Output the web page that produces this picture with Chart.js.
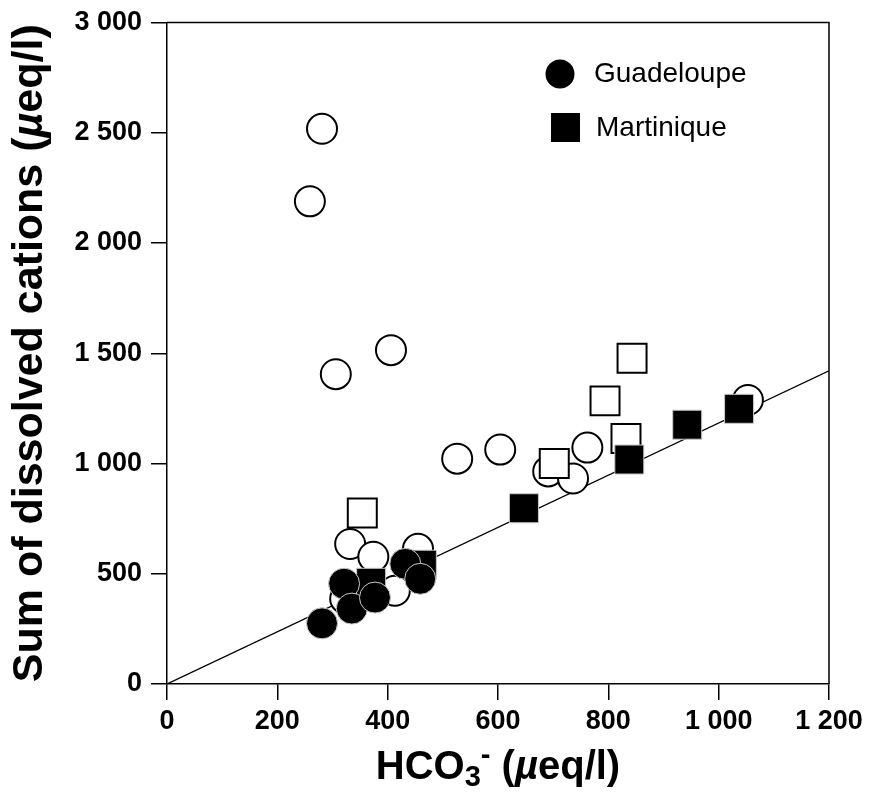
<!DOCTYPE html>
<html>
<head>
<meta charset="utf-8">
<script src="https://cdn.jsdelivr.net/npm/chart.js@4.4.1/dist/chart.umd.min.js"></script>
<style>
  html, body { margin: 0; padding: 0; background: #fff; }
  #wrap { width: 871px; height: 795px; }
</style>
</head>
<body>
<div id="wrap"><canvas id="cations"></canvas></div>
<script>
// HCO3- (x) vs sum of dissolved cations (y), both in µeq/l
const guadOpenX = [281, 259, 406, 306, 526, 604, 691, 736, 762, 1053, 332, 374, 323, 413, 455];
const guadOpenY = [2518, 2189, 1514, 1405, 1022, 1063, 964, 932, 1072, 1288, 635, 577, 387, 423, 613];

const guadFilledX = [281, 321, 335, 377, 432, 459];
const guadFilledY = [275, 455, 342, 392, 545, 477];

const martOpenX = [354, 702, 832, 794, 843];
const martOpenY = [775, 1000, 1113, 1284, 1477];

const martFilledX = [370, 462, 647, 838, 943, 1037];
const martFilledY = [459, 541, 797, 1018, 1176, 1248];

// reference line through the origin
const lineX = [0, 1200];
const lineY = [0, 1420];

const xTicks = [0, 200, 400, 600, 800, 1000, 1200];
const yTicks = [0, 500, 1000, 1500, 2000, 2500, 3000];

const FONT = "'Liberation Sans', Arial, Helvetica, sans-serif";

const pts = (xs, ys) => xs.map((x, i) => ({ x: x, y: ys[i] }));
const spaced = v => v >= 1000 ? Math.floor(v / 1000) + ' ' + String(v % 1000).padStart(3, '0') : String(v);

// draws a row of differently styled text pieces centred on (cx, cy)
function drawRuns(ctx, runs, cx, cy) {
  let total = 0;
  runs.forEach(r => { ctx.font = r.font; total += ctx.measureText(r.text).width; });
  let x = cx - total / 2;
  ctx.textBaseline = 'middle';
  ctx.textAlign = 'left';
  runs.forEach(r => {
    ctx.font = r.font;
    ctx.fillText(r.text, x, cy + (r.dy || 0));
    x += ctx.measureText(r.text).width;
  });
}

const decorations = {
  id: 'decorations',
  beforeDatasetsDraw(chart) {
    const { ctx, chartArea: a } = chart;
    ctx.save();
    ctx.strokeStyle = '#000';
    ctx.lineWidth = 1.5;
    ctx.beginPath();
    ctx.moveTo(a.left, a.top);
    ctx.lineTo(a.right, a.top);
    ctx.lineTo(a.right, a.bottom);
    ctx.stroke();
    ctx.restore();
  },
  afterDraw(chart) {
    const { ctx, chartArea: a } = chart;
    ctx.save();
    ctx.fillStyle = '#000';
    const b = 'bold 40px ' + FONT;
    const bi = 'italic bold 40px ' + FONT;
    const sub = 'bold 29px ' + FONT;

    drawRuns(ctx, [
      { text: 'HCO', font: b },
      { text: '3', font: sub, dy: 10 },
      { text: '-', font: sub, dy: -12 },
      { text: ' (', font: b },
      { text: 'µ', font: bi },
      { text: 'eq/l)', font: b }
    ], (a.left + a.right) / 2, 768);

    const yb = 'bold 43px ' + FONT;
    const ybi = 'italic bold 43px ' + FONT;
    ctx.save();
    ctx.translate(30, (a.top + a.bottom) / 2);
    ctx.rotate(-Math.PI / 2);
    drawRuns(ctx, [
      { text: 'Sum of dissolved cations (', font: yb },
      { text: 'µ', font: ybi },
      { text: 'eq/l)', font: yb }
    ], 0, 0);
    ctx.restore();

    // legend
    ctx.font = '28px ' + FONT;
    ctx.textBaseline = 'middle';
    ctx.beginPath();
    ctx.arc(560, 74, 14.5, 0, Math.PI * 2);
    ctx.fill();
    ctx.fillText('Guadeloupe', 594, 74);
    ctx.fillRect(551, 113, 29, 29);
    ctx.fillText('Martinique', 596, 128);
    ctx.restore();
  }
};

const filledStyle = { backgroundColor: '#000', borderColor: '#c8c8c8', borderWidth: 1 };
const openStyle = { backgroundColor: '#fff', borderColor: '#000', borderWidth: 2 };

new Chart(document.getElementById('cations'), {
  type: 'scatter',
  data: {
    datasets: [
      { label: 'Guadeloupe', data: pts(guadFilledX, guadFilledY), pointStyle: 'circle', pointRadius: 15.5, order: 1, ...filledStyle },
      { label: 'Martinique', data: pts(martFilledX, martFilledY), pointStyle: 'rect', pointRadius: 20.5, order: 2, ...filledStyle },
      { label: 'Martinique (open)', data: pts(martOpenX, martOpenY), pointStyle: 'rect', pointRadius: 20.5, order: 3, ...openStyle },
      { label: 'Guadeloupe (open)', data: pts(guadOpenX, guadOpenY), pointStyle: 'circle', pointRadius: 15, order: 4, ...openStyle },
      {
        label: 'line', type: 'line', data: pts(lineX, lineY), order: 5,
        borderColor: '#000', borderWidth: 1.3, pointRadius: 0, fill: false, tension: 0
      }
    ]
  },
  options: {
    responsive: true,
    maintainAspectRatio: false,
    animation: false,
    events: [],
    layout: { padding: { left: 0, right: 42, top: 18, bottom: 0 } },
    plugins: {
      legend: { display: false },
      tooltip: { enabled: false }
    },
    scales: {
      x: {
        type: 'linear',
        min: xTicks[0],
        max: xTicks[xTicks.length - 1],
        afterBuildTicks: s => { s.ticks = xTicks.map(v => ({ value: v })); },
        afterFit: s => { s.height = 111; s.paddingLeft = 0; s.paddingRight = 0; },
        ticks: {
          color: '#000', padding: 5, maxRotation: 0, callback: v => spaced(v),
          font: { family: FONT, size: 27, weight: 'bold' }
        },
        grid: { drawOnChartArea: false, drawTicks: true, tickLength: 16, color: '#000', lineWidth: 1.5 },
        border: { display: true, color: '#000', width: 1.5 }
      },
      y: {
        type: 'linear',
        min: yTicks[0],
        max: yTicks[yTicks.length - 1],
        afterBuildTicks: s => { s.ticks = yTicks.map(v => ({ value: v })); },
        afterFit: s => { s.width = 167; s.paddingTop = 0; s.paddingBottom = 0; },
        ticks: {
          color: '#000', padding: 9, callback: v => spaced(v),
          font: { family: FONT, size: 27, weight: 'bold' }
        },
        grid: { drawOnChartArea: false, drawTicks: true, tickLength: 16, color: '#000', lineWidth: 1.5 },
        border: { display: true, color: '#000', width: 1.5 }
      }
    }
  },
  plugins: [decorations]
});
</script>
</body>
</html>
